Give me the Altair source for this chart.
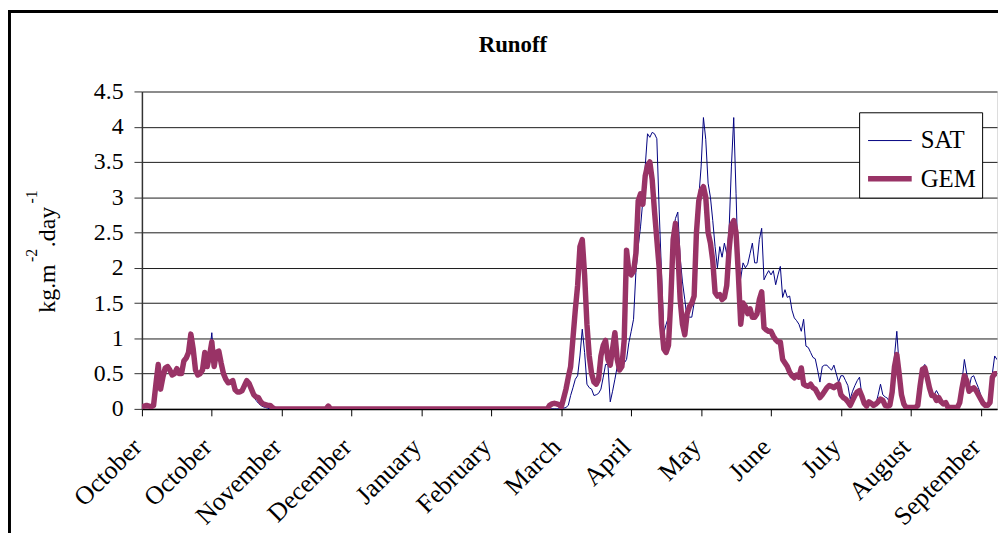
import altair as alt
import pandas as pd

FONT = "Liberation Serif"

month_labels = ["October", "October", "November", "December", "January", "February",
                "March", "April", "May", "June", "July", "August", "September"]
tick_days = [0, 30, 60, 90, 120, 150, 180, 210, 240, 270, 300, 330, 360]
y_ticks = [0, 0.5, 1, 1.5, 2, 2.5, 3, 3.5, 4, 4.5]
series_names = ["SAT", "GEM"]
series_colors = ["#000080", "#993366"]
chart_title = "Runoff"
y_title_parts = ["kg.m", "-2", ".day", "-1"]

# ---- GEM (days 0-56, October/November)
gem_autumn = [
    0.03, 0.04, 0.05, 0.04, 0.03, 0.05, 0.35, 0.63, 0.28, 0.45,
    0.58, 0.6, 0.55, 0.48, 0.5, 0.57, 0.5, 0.5, 0.68, 0.72,
    0.8, 1.06, 0.85, 0.55, 0.48, 0.5, 0.55, 0.8, 0.6, 0.75,
    0.95, 0.6, 0.8, 0.82, 0.65, 0.5, 0.42, 0.37, 0.38, 0.4,
    0.27, 0.24, 0.24, 0.26, 0.33, 0.4, 0.36, 0.28, 0.2, 0.17,
    0.16, 0.1, 0.07, 0.06, 0.05, 0.05, 0.02,
]
# days 57-180
gem_winter = [0.0] * 23 + [0.04] + [0.0] * 94 + [0.05, 0.07, 0.08, 0.07, 0.06, 0.03]
# days 181-367
gem_spring = [
    0.15, 0.28, 0.45, 0.6, 1.0, 1.4, 1.75, 2.3, 2.4, 1.9,
    1.2, 0.75, 0.5, 0.38, 0.35, 0.42, 0.75, 0.9, 0.97, 0.7,
    0.62, 0.85, 1.08, 0.7, 0.55, 0.6, 0.98, 2.25, 1.95, 1.9,
    1.95, 2.2, 2.95, 3.05, 2.9, 3.3, 3.45, 3.5, 3.25, 2.8,
    2.4, 2.0, 1.2, 0.85, 0.8, 0.9, 1.55, 2.4, 2.63, 2.25,
    1.55, 1.2, 1.05, 1.35, 1.45, 1.5, 1.6, 2.5, 2.95, 3.1,
    3.15, 3.0, 2.5, 2.35, 2.1, 1.65, 1.6, 1.62, 1.55, 1.58,
    1.75, 2.25, 2.6, 2.67, 2.5, 1.9, 1.2, 1.5, 1.45, 1.35,
    1.42, 1.3, 1.3, 1.35, 1.55, 1.66, 1.15, 1.12, 1.1, 1.1,
    1.03, 0.98, 0.95, 0.95, 0.7, 0.65, 0.6, 0.52, 0.47, 0.44,
    0.48, 0.45, 0.58, 0.35, 0.33, 0.32, 0.35, 0.3, 0.28, 0.22,
    0.16, 0.2, 0.25, 0.3, 0.33, 0.32, 0.3, 0.33, 0.35, 0.2,
    0.16, 0.14, 0.1, 0.05, 0.12, 0.19, 0.24, 0.26, 0.18, 0.08,
    0.04, 0.1, 0.08, 0.05, 0.07, 0.1, 0.14, 0.12, 0.05, 0.04,
    0.05, 0.24, 0.6, 0.77, 0.5, 0.2, 0.07, 0.02, 0.02, 0.02,
    0.02, 0.02, 0.05, 0.33, 0.56, 0.58, 0.45, 0.3, 0.19, 0.19,
    0.12, 0.16, 0.1, 0.07, 0.09, 0.02, 0.02, 0.02, 0.02, 0.02,
    0.09, 0.3, 0.47, 0.4, 0.25, 0.28, 0.3, 0.26, 0.2, 0.14,
    0.08, 0.05, 0.05, 0.09, 0.45, 0.5, 0.5,
]

# ---- SAT
sat_autumn = [
    0.03, 0.04, 0.05, 0.04, 0.03, 0.05, 0.38, 0.66, 0.3, 0.45,
    0.58, 0.6, 0.55, 0.48, 0.5, 0.57, 0.5, 0.5, 0.68, 0.72,
    0.8, 1.06, 0.85, 0.55, 0.48, 0.5, 0.55, 0.8, 0.6, 0.78,
    1.08, 0.6, 0.8, 0.82, 0.65, 0.5, 0.42, 0.37, 0.38, 0.4,
    0.27, 0.24, 0.24, 0.26, 0.33, 0.43, 0.36, 0.25, 0.17, 0.12,
    0.08, 0.05, 0.03, 0.02, 0.01, 0.0, 0.0,
]
sat_winter = [0.0] * 124
sat_spring = [
    0.01, 0.02, 0.05, 0.19, 0.3, 0.42, 0.47, 0.75, 1.13, 0.8,
    0.35, 0.3, 0.28, 0.19, 0.2, 0.22, 0.28, 0.45, 0.63, 0.63,
    0.1, 0.25, 0.42, 0.6, 0.55, 0.56, 0.65, 0.7, 0.94, 1.1,
    1.27, 1.93, 2.3, 2.58, 2.96, 3.43, 3.9, 3.85, 3.92, 3.9,
    3.83, 2.82, 1.93, 1.08, 1.2, 1.3, 1.9, 2.49, 2.7, 2.79,
    2.15, 1.8, 1.55, 1.27, 1.3, 1.3, 1.5, 2.49, 3.0, 3.43,
    4.13, 3.82, 3.2, 3.0, 2.67, 2.3, 2.0, 2.3, 2.15, 2.35,
    2.2, 2.53, 3.43, 4.13, 3.05, 1.9, 1.85, 2.07, 2.0, 2.05,
    2.2, 2.35, 2.07, 2.07, 2.4, 2.56, 1.83, 1.9, 1.96, 1.9,
    1.96, 1.76, 1.9, 2.02, 1.58, 1.69, 1.58, 1.6, 1.4, 1.29,
    1.25, 1.2, 1.1, 1.27, 0.89, 0.87, 0.8, 0.73, 0.71, 0.55,
    0.38, 0.6, 0.62, 0.62, 0.58, 0.55, 0.62, 0.5, 0.38, 0.47,
    0.47, 0.4, 0.33, 0.14, 0.25, 0.33, 0.4, 0.45, 0.19, 0.08,
    0.05, 0.1, 0.08, 0.05, 0.07, 0.2, 0.35, 0.2, 0.17, 0.15,
    0.08, 0.3, 0.75, 1.1, 0.6, 0.2, 0.07, 0.02, 0.02, 0.02,
    0.02, 0.02, 0.1, 0.5, 0.58, 0.63, 0.55, 0.3, 0.25, 0.2,
    0.26, 0.2, 0.12, 0.07, 0.09, 0.02, 0.02, 0.02, 0.02, 0.02,
    0.1, 0.4, 0.7, 0.5, 0.3, 0.45, 0.47, 0.38, 0.3, 0.2,
    0.1, 0.05, 0.05, 0.1, 0.5, 0.75, 0.7,
]

sat = sat_autumn + sat_winter + sat_spring
gem = gem_autumn + gem_winter + gem_spring

rows = [{"day": i, "runoff": v, "series": "SAT"} for i, v in enumerate(sat)]
rows += [{"day": i, "runoff": v, "series": "GEM"} for i, v in enumerate(gem)]
df = pd.DataFrame(rows)

W, H = 862, 320
PAD_L, PAD_T = 135, 82

label_expr = "[" + ",".join("'%s'" % m for m in month_labels) + "][round(datum.value/30)]"

legend = alt.Legend(
    title=None, orient="none", legendX=723, legendY=21,
    padding=6, strokeColor="black", fillColor="white", cornerRadius=0,
    labelFont=FONT, labelFontSize=25, labelColor="black", labelOffset=6,
    symbolSize=1936, symbolType="stroke", rowPadding=0,
)

lines = alt.Chart(df).mark_line(strokeJoin="round", strokeCap="round", clip=True).encode(
    x=alt.X(
        "day:Q",
        scale=alt.Scale(domain=[0, 367], nice=False, zero=False),
        axis=alt.Axis(
            values=tick_days, labelExpr=label_expr, title=None, grid=False,
            labelAngle=-45, labelAlign="right", labelBaseline="middle",
            labelFont=FONT, labelFontSize=26, labelColor="black",
            labelPadding=27, labelOffset=-5, labelOverlap=False, labelFlush=False,
            tickSize=7, tickColor="black", domainColor="black", domainWidth=1.5,
        ),
    ),
    y=alt.Y(
        "runoff:Q",
        scale=alt.Scale(domain=[0, 4.5], nice=False),
        axis=alt.Axis(
            values=y_ticks, format="~g", title=None,
            labelFont=FONT, labelFontSize=24, labelColor="black", labelPadding=11,
            tickSize=8, tickColor="#333333", domainColor="#333333", domainWidth=1.5,
            grid=True,
            gridColor={"condition": {"test": "datum.value === 4.5", "value": "#8c8c8c"},
                       "value": "#1a1a1a"},
            gridWidth={"condition": {"test": "datum.value === 4.5", "value": 2},
                       "value": 1},
        ),
    ),
    color=alt.Color("series:N", scale=alt.Scale(domain=series_names, range=series_colors),
                    legend=legend),
    strokeWidth=alt.StrokeWidth("series:N", scale=alt.Scale(domain=series_names, range=[1, 5.5]),
                                legend=legend),
)

one = pd.DataFrame({"k": [0]})

left_border = alt.Chart(one).mark_rule(color="black", strokeWidth=3).encode(
    x=alt.value(-133.5), y=alt.value(-80.5), y2=alt.value(H + 125)
)
top_border = alt.Chart(one).mark_rule(color="black", strokeWidth=3).encode(
    y=alt.value(-80.5), x=alt.value(-135), x2=alt.value(W + 1)
)

title_mark = alt.Chart(one).mark_text(
    text=chart_title, font=FONT, fontSize=23, fontWeight="bold", color="black",
    align="center", baseline="alphabetic",
).encode(x=alt.value(374), y=alt.value(-40))


def ytitle_piece(txt, xpos, ypos, size):
    return alt.Chart(one).mark_text(
        text=txt, font=FONT, fontSize=size, color="black", angle=270,
        align="left", baseline="alphabetic",
    ).encode(x=alt.value(xpos), y=alt.value(ypos))


ytitle = [
    ytitle_piece(y_title_parts[0], -88, 223, 24),
    ytitle_piece(y_title_parts[1], -106, 172, 16),
    ytitle_piece(y_title_parts[2], -88, 157, 24),
    ytitle_piece(y_title_parts[3], -106, 113, 16),
]

chart = alt.layer(left_border, top_border, title_mark, *ytitle, lines).properties(
    width=W, height=H,
    autosize=alt.AutoSizeParams(type="none"),
    padding={"left": PAD_L, "top": PAD_T, "right": 1, "bottom": 125},
).configure_view(stroke=None).configure(background="white")

chart.save("out.html", embed_options={"renderer": "svg", "actions": False})
